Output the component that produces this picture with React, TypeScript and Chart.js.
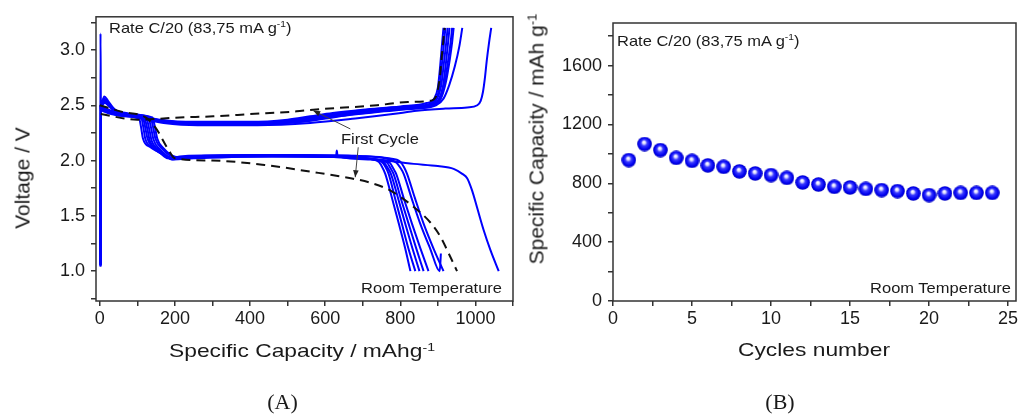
import React, { useEffect, useRef } from 'react';
import { Chart, registerables } from 'chart.js';

Chart.register(...registerables);

// ---------------- Panel (A): voltage profiles (x: mAh/g, y: V) ----------------
const FIRST_DISCHARGE: number[][] = [[0,2.50],[60,2.44],[122,2.39],[148,2.30],[184,2.09],[200,2.02],[300,2.00],[439,1.96],[560,1.90],[668,1.84],[720,1.80],[773,1.73],[836,1.58],[880,1.44],[907,1.31],[933,1.13],[951,1.0]];
const FIRST_CHARGE: number[][] = [[3,2.42],[100,2.37],[213,2.39],[302,2.40],[400,2.42],[524,2.445],[568,2.46],[738,2.50],[820,2.53],[879,2.54],[895,2.58],[905,2.75],[912,3.0],[918,3.2]];

const DISCHARGE_1: number[][] = [[0,2.48],[30,2.43],[70,2.40],[105,2.38],[110,2.30],[115,2.20],[135,2.12],[160,2.07],[182,2.02],[210,2.03],[350,2.04],[550,2.04],[700,2.02],[742,1.99],[752,1.94],[760,1.88],[778,1.66],[796,1.43],[812,1.22],[827,1.0]];
const DISCHARGE_2: number[][] = [[0,2.50],[30,2.44],[70,2.41],[110,2.39],[116,2.30],[121,2.20],[140,2.12],[165,2.06],[185,2.02],[220,2.04],[400,2.05],[600,2.04],[710,2.02],[750,1.99],[761,1.94],[769,1.88],[786,1.66],[804,1.43],[822,1.20],[840,1.0]];
const DISCHARGE_3: number[][] = [[0,2.46],[30,2.42],[70,2.40],[115,2.38],[121,2.30],[127,2.20],[146,2.11],[170,2.05],[190,2.02],[230,2.03],[420,2.04],[629,2.04],[631,2.09],[633,2.04],[720,2.01],[757,1.98],[767,1.93],[775,1.88],[794,1.66],[813,1.43],[832,1.21],[851,1.0]];
const DISCHARGE_4: number[][] = [[0,2.49],[30,2.44],[70,2.41],[120,2.37],[127,2.28],[133,2.18],[150,2.10],[172,2.05],[192,2.01],[240,2.03],[450,2.04],[640,2.03],[730,2.01],[765,1.98],[774,1.93],[782,1.88],[802,1.65],[822,1.43],[842,1.21],[862,1.0]];
const DISCHARGE_5: number[][] = [[0,2.47],[30,2.43],[70,2.41],[125,2.37],[132,2.28],[138,2.18],[155,2.10],[175,2.05],[195,2.01],[250,2.02],[460,2.04],[660,2.03],[740,2.01],[772,1.98],[781,1.93],[789,1.88],[810,1.65],[831,1.43],[853,1.21],[875,1.0]];
const DISCHARGE_6: number[][] = [[0,2.50],[30,2.45],[70,2.42],[130,2.38],[137,2.29],[143,2.19],[160,2.10],[180,2.04],[200,2.02],[260,2.04],[480,2.05],[680,2.04],[760,2.02],[790,1.98],[801,1.93],[809,1.88],[830,1.66],[853,1.43],[880,1.20],[905,1.0],[908,1.16]];
const DISCHARGE_7: number[][] = [[0,2.48],[30,2.44],[70,2.42],[135,2.39],[142,2.30],[148,2.20],[165,2.11],[185,2.05],[205,2.03],[280,2.04],[500,2.05],[700,2.04],[770,2.02],[800,1.99],[810,1.94],[818,1.88],[839,1.66],[862,1.43],[889,1.20],[915,1.0]];
const DISCHARGE_8: number[][] = [[0,2.49],[30,2.44],[70,2.42],[140,2.39],[147,2.30],[153,2.20],[170,2.11],[190,2.05],[210,2.03],[300,2.04],[500,2.04],[700,2.02],[836,1.97],[900,1.95],[942,1.925],[965,1.88],[978,1.84],[991,1.73],[1004,1.58],[1022,1.37],[1040,1.19],[1062,1.0]];

const CHARGE_1: number[][] = [[1,1.07],[2,3.15],[3,2.50],[12,2.58],[22,2.54],[40,2.46],[70,2.43],[110,2.40],[160,2.37],[250,2.35],[400,2.35],[500,2.37],[560,2.40],[620,2.43],[700,2.46],[800,2.49],[870,2.52],[890,2.56],[900,2.66],[906,2.85],[911,3.05],[915,3.2]];
const CHARGE_2: number[][] = [[2,1.05],[3,2.46],[12,2.56],[22,2.52],[40,2.45],[70,2.42],[110,2.39],[160,2.36],[250,2.34],[400,2.34],[500,2.36],[560,2.39],[620,2.42],[700,2.455],[800,2.485],[875,2.51],[895,2.56],[905,2.67],[911,2.88],[916,3.05],[920,3.2]];
const CHARGE_3: number[][] = [[2,1.06],[3,2.45],[14,2.55],[25,2.51],[45,2.45],[80,2.42],[120,2.39],[170,2.36],[260,2.34],[410,2.34],[510,2.36],[570,2.39],[630,2.42],[710,2.45],[810,2.48],[880,2.51],[898,2.56],[909,2.68],[916,2.88],[922,3.06],[926,3.2]];
const CHARGE_4: number[][] = [[2,1.04],[3,2.44],[14,2.54],[25,2.50],[45,2.44],[80,2.41],[120,2.38],[170,2.35],[260,2.33],[410,2.33],[520,2.35],[580,2.38],[640,2.41],[720,2.44],[820,2.47],[885,2.50],[902,2.55],[914,2.68],[922,2.90],[927,3.06],[931,3.2]];
const CHARGE_5: number[][] = [[2,1.05],[3,2.46],[14,2.55],[25,2.51],[45,2.45],[80,2.42],[120,2.39],[170,2.36],[260,2.34],[410,2.34],[520,2.36],[580,2.39],[640,2.42],[720,2.45],[820,2.48],[885,2.51],[905,2.56],[918,2.70],[928,2.92],[934,3.07],[938,3.2]];
const CHARGE_6: number[][] = [[2,1.06],[3,2.45],[14,2.53],[25,2.50],[45,2.44],[80,2.41],[120,2.38],[170,2.35],[260,2.33],[420,2.33],[530,2.35],[590,2.38],[650,2.41],[730,2.44],[830,2.47],[890,2.50],[908,2.56],[922,2.72],[932,2.92],[938,3.07],[942,3.2]];
const CHARGE_7: number[][] = [[2,1.05],[3,2.45],[14,2.54],[25,2.50],[45,2.44],[80,2.41],[120,2.38],[170,2.35],[260,2.33],[420,2.33],[540,2.35],[600,2.38],[660,2.41],[740,2.44],[840,2.47],[895,2.50],[915,2.56],[930,2.68],[945,2.85],[957,3.03],[965,3.2]];
const CHARGE_8: number[][] = [[2,1.06],[3,2.44],[14,2.52],[25,2.49],[45,2.43],[80,2.40],[120,2.37],[170,2.34],[260,2.32],[420,2.32],[560,2.34],[680,2.38],[780,2.42],[844,2.45],[920,2.47],[978,2.48],[1005,2.50],[1014,2.54],[1020,2.62],[1025,2.74],[1030,2.90],[1036,3.06],[1042,3.2]];

const A_X_MAJOR = [0, 200, 400, 600, 800, 1000];
const A_X_MINOR = [100, 300, 500, 700, 900, 1100];
const A_Y_MAJOR = [1.0, 1.5, 2.0, 2.5, 3.0];
const A_Y_MINOR = [0.75, 1.25, 1.75, 2.25, 2.75, 3.25];

// "First Cycle" annotation arrows (data coordinates)
const ARROW_STARTS = [[667, 2.286], [688, 2.12]];
const ARROW_ENDS = [[568, 2.452], [680, 1.849]];

// ---------------- Panel (B): capacity vs cycle ----------------
const CYCLES = [1, 2, 3, 4, 5, 6, 7, 8, 9, 10, 11, 12, 13, 14, 15, 16, 17, 18, 19, 20, 21, 22, 23, 24];
const CAPACITY = [958, 1067, 1026, 973, 953, 922, 912, 881, 867, 856, 837, 806, 792, 776, 772, 762, 754, 747, 731, 720, 731, 735, 735, 735];

const B_X_MAJOR = [0, 5, 10, 15, 20, 25];
const B_X_MINOR = [2.5, 7.5, 12.5, 17.5, 22.5];
const B_Y_MAJOR = [0, 400, 800, 1200, 1600];
const B_Y_MINOR = [200, 600, 1000, 1400, 1800];

const SANS = "'Liberation Sans', Arial, Helvetica, sans-serif";
const SERIF = "'Liberation Serif', 'Times New Roman', serif";
const TEXT = '#1a1a1a';
const AXIS = '#333333';

const toXY = (pts: number[][]) => pts.map((p) => ({ x: p[0], y: p[1] }));

function axis(min: number, max: number, major: number[], minor: number[], fmt: (v: number) => string, fit: { width?: number; height?: number }, padding: number) {
  return {
    type: 'linear',
    min,
    max,
    afterBuildTicks: (s: any) => {
      s.ticks = [...major, ...minor].sort((a, b) => a - b).map((v) => ({ value: v }));
    },
    afterFit: (s: any) => {
      if (fit.width !== undefined) s.width = fit.width;
      if (fit.height !== undefined) s.height = fit.height;
    },
    grid: { display: true, drawOnChartArea: false, drawTicks: true, tickLength: 5, color: AXIS, lineWidth: 1.5 },
    border: { display: false },
    ticks: {
      autoSkip: false,
      maxRotation: 0,
      minRotation: 0,
      padding,
      color: TEXT,
      font: { family: SANS, size: 18 },
      callback: (v: any) => (major.includes(v) ? fmt(v) : ''),
    },
  };
}

const framePlugin = {
  id: 'frame',
  afterDraw(chart: any) {
    const { ctx, chartArea } = chart;
    ctx.save();
    ctx.strokeStyle = AXIS;
    ctx.lineWidth = 1.5;
    ctx.strokeRect(chartArea.left, chartArea.top, chartArea.right - chartArea.left, chartArea.bottom - chartArea.top);
    ctx.restore();
  },
};

const arrowPlugin = {
  id: 'arrows',
  afterDatasetsDraw(chart: any) {
    const { ctx } = chart;
    const sx = chart.scales.x;
    const sy = chart.scales.y;
    ctx.save();
    ctx.strokeStyle = '#444';
    ctx.fillStyle = '#222';
    ctx.lineWidth = 1;
    ARROW_STARTS.forEach((s, i) => {
      const e = ARROW_ENDS[i];
      const x1 = sx.getPixelForValue(s[0]);
      const y1 = sy.getPixelForValue(s[1]);
      const x2 = sx.getPixelForValue(e[0]);
      const y2 = sy.getPixelForValue(e[1]);
      ctx.beginPath();
      ctx.moveTo(x1, y1);
      ctx.lineTo(x2, y2);
      ctx.stroke();
      const a = Math.atan2(y2 - y1, x2 - x1);
      const L = 7;
      const W = 2.8;
      ctx.beginPath();
      ctx.moveTo(x2, y2);
      ctx.lineTo(x2 - L * Math.cos(a) + W * Math.sin(a), y2 - L * Math.sin(a) - W * Math.cos(a));
      ctx.lineTo(x2 - L * Math.cos(a) - W * Math.sin(a), y2 - L * Math.sin(a) + W * Math.cos(a));
      ctx.closePath();
      ctx.fill();
    });
    ctx.restore();
  },
};

function PanelA() {
  const ref = useRef<HTMLCanvasElement>(null);
  useEffect(() => {
    const blue = (pts: number[][]) => ({
      data: toXY(pts),
      showLine: true,
      borderColor: '#0000ff',
      borderWidth: 2,
      pointRadius: 0,
      cubicInterpolationMode: 'monotone',
      fill: false,
    });
    const dashed = (pts: number[][]) => ({
      data: toXY(pts),
      showLine: true,
      borderColor: '#111111',
      borderWidth: 2,
      borderDash: [9, 6],
      pointRadius: 0,
      cubicInterpolationMode: 'monotone',
      fill: false,
    });
    const datasets: any[] = [
      dashed(FIRST_DISCHARGE),
      dashed(FIRST_CHARGE),
      ...[DISCHARGE_1, DISCHARGE_2, DISCHARGE_3, DISCHARGE_4, DISCHARGE_5, DISCHARGE_6, DISCHARGE_7, DISCHARGE_8].map(blue),
      ...[CHARGE_1, CHARGE_2, CHARGE_3, CHARGE_4, CHARGE_5, CHARGE_6, CHARGE_7, CHARGE_8].map(blue),
    ];
    const chart = new Chart(ref.current as HTMLCanvasElement, {
      type: 'scatter',
      data: { datasets },
      options: {
        animation: false,
        responsive: false,
        maintainAspectRatio: false,
        layout: { padding: { top: 16, right: 7, left: 0, bottom: 0 } },
        plugins: { legend: { display: false }, tooltip: { enabled: false } },
        scales: {
          x: axis(-10, 1100, A_X_MAJOR, A_X_MINOR, (v) => String(v), { height: 113 }, 2) as any,
          y: axis(0.73, 3.3, A_Y_MAJOR, A_Y_MINOR, (v) => v.toFixed(1), { width: 96 }, 6) as any,
        },
      } as any,
      plugins: [framePlugin, arrowPlugin],
    });
    return () => chart.destroy();
  }, []);
  return <canvas ref={ref} width={520} height={414} style={{ position: 'absolute', left: 0, top: 0, width: 520, height: 414 }} />;
}

function makeSphere(): HTMLCanvasElement {
  const c = document.createElement('canvas');
  c.width = 15;
  c.height = 15;
  const g = c.getContext('2d') as CanvasRenderingContext2D;
  const grad = g.createRadialGradient(6.8, 5.6, 0.3, 7.5, 7.5, 7.6);
  grad.addColorStop(0, '#ffffff');
  grad.addColorStop(0.16, '#d8d8ff');
  grad.addColorStop(0.38, '#3a3aff');
  grad.addColorStop(0.75, '#0000f0');
  grad.addColorStop(1, '#0000b8');
  g.fillStyle = grad;
  g.beginPath();
  g.arc(7.5, 7.5, 7.3, 0, Math.PI * 2);
  g.fill();
  return c;
}

function PanelB() {
  const ref = useRef<HTMLCanvasElement>(null);
  useEffect(() => {
    const sphere = makeSphere();
    const chart = new Chart(ref.current as HTMLCanvasElement, {
      type: 'scatter',
      data: {
        datasets: [
          {
            data: CYCLES.map((c, i) => ({ x: c, y: CAPACITY[i] })),
            pointStyle: sphere,
            pointRadius: 7,
            showLine: false,
          } as any,
        ],
      },
      options: {
        animation: false,
        responsive: false,
        maintainAspectRatio: false,
        layout: { padding: { top: 23, right: 3, left: 0, bottom: 0 } },
        plugins: { legend: { display: false }, tooltip: { enabled: false } },
        scales: {
          x: axis(0, 25.5, B_X_MAJOR, B_X_MINOR, (v) => String(v), { height: 113 }, 2) as any,
          y: axis(0, 1890, B_Y_MAJOR, B_Y_MINOR, (v) => String(v), { width: 93 }, 6) as any,
        },
      } as any,
      plugins: [framePlugin],
    });
    return () => chart.destroy();
  }, []);
  return <canvas ref={ref} width={504} height={414} style={{ position: 'absolute', left: 520, top: 0, width: 504, height: 414 }} />;
}

const sup: React.CSSProperties = { fontSize: '0.62em', position: 'relative', top: '-0.55em' };

function Txt(props: { x: number; y: number; size: number; anchor?: 'left' | 'center' | 'right'; rotate?: boolean; sx?: number; serif?: boolean; children: React.ReactNode }) {
  const { x, y, size, anchor = 'left', rotate = false, sx = 1, serif = false } = props;
  let transform = '';
  let origin = '50% 50%';
  if (rotate) {
    transform = 'translate(-50%, -50%) rotate(-90deg)';
  } else if (anchor === 'center') {
    transform = `translate(-50%, -50%) scaleX(${sx})`;
  } else if (anchor === 'left') {
    transform = `translate(0, -50%) scaleX(${sx})`;
    origin = '0 50%';
  } else {
    transform = `translate(-100%, -50%) scaleX(${sx})`;
    origin = '100% 50%';
  }
  return (
    <div
      style={{
        position: 'absolute',
        left: x,
        top: y,
        fontFamily: serif ? SERIF : SANS,
        fontSize: size,
        lineHeight: 1,
        color: TEXT,
        whiteSpace: 'nowrap',
        transform,
        transformOrigin: origin,
      }}
    >
      {props.children}
    </div>
  );
}

export default function App() {
  return (
    <div style={{ position: 'fixed', left: 0, top: 0, width: 1024, height: 414, background: '#ffffff', overflow: 'hidden' }}>
      <PanelA />
      <PanelB />
      {/* Panel A texts */}
      <Txt x={109} y={27.5} size={15} sx={1.1}>Rate C/20 (83,75 mA g<span style={sup}>-1</span>)</Txt>
      <Txt x={501.7} y={286.5} size={15} sx={1.1} anchor="right">Room Temperature</Txt>
      <Txt x={340.7} y={138.3} size={15} sx={1.1}>First Cycle</Txt>
      <Txt x={22} y={178} size={21} rotate>Voltage / V</Txt>
      <Txt x={302} y={350} size={19} sx={1.2} anchor="center">Specific Capacity / mAhg<span style={sup}>-1</span></Txt>
      <Txt x={282.5} y={401.5} size={22} serif anchor="center">(A)</Txt>
      {/* Panel B texts */}
      <Txt x={616.7} y={40.5} size={15} sx={1.1}>Rate C/20 (83,75 mA g<span style={sup}>-1</span>)</Txt>
      <Txt x={1010.7} y={286.5} size={15} sx={1.1} anchor="right">Room Temperature</Txt>
      <Txt x={536} y={139} size={21} rotate>Specific Capacity / mAh g<span style={sup}>-1</span></Txt>
      <Txt x={814} y={349} size={19} sx={1.2} anchor="center">Cycles number</Txt>
      <Txt x={780} y={401.5} size={22} serif anchor="center">(B)</Txt>
    </div>
  );
}
